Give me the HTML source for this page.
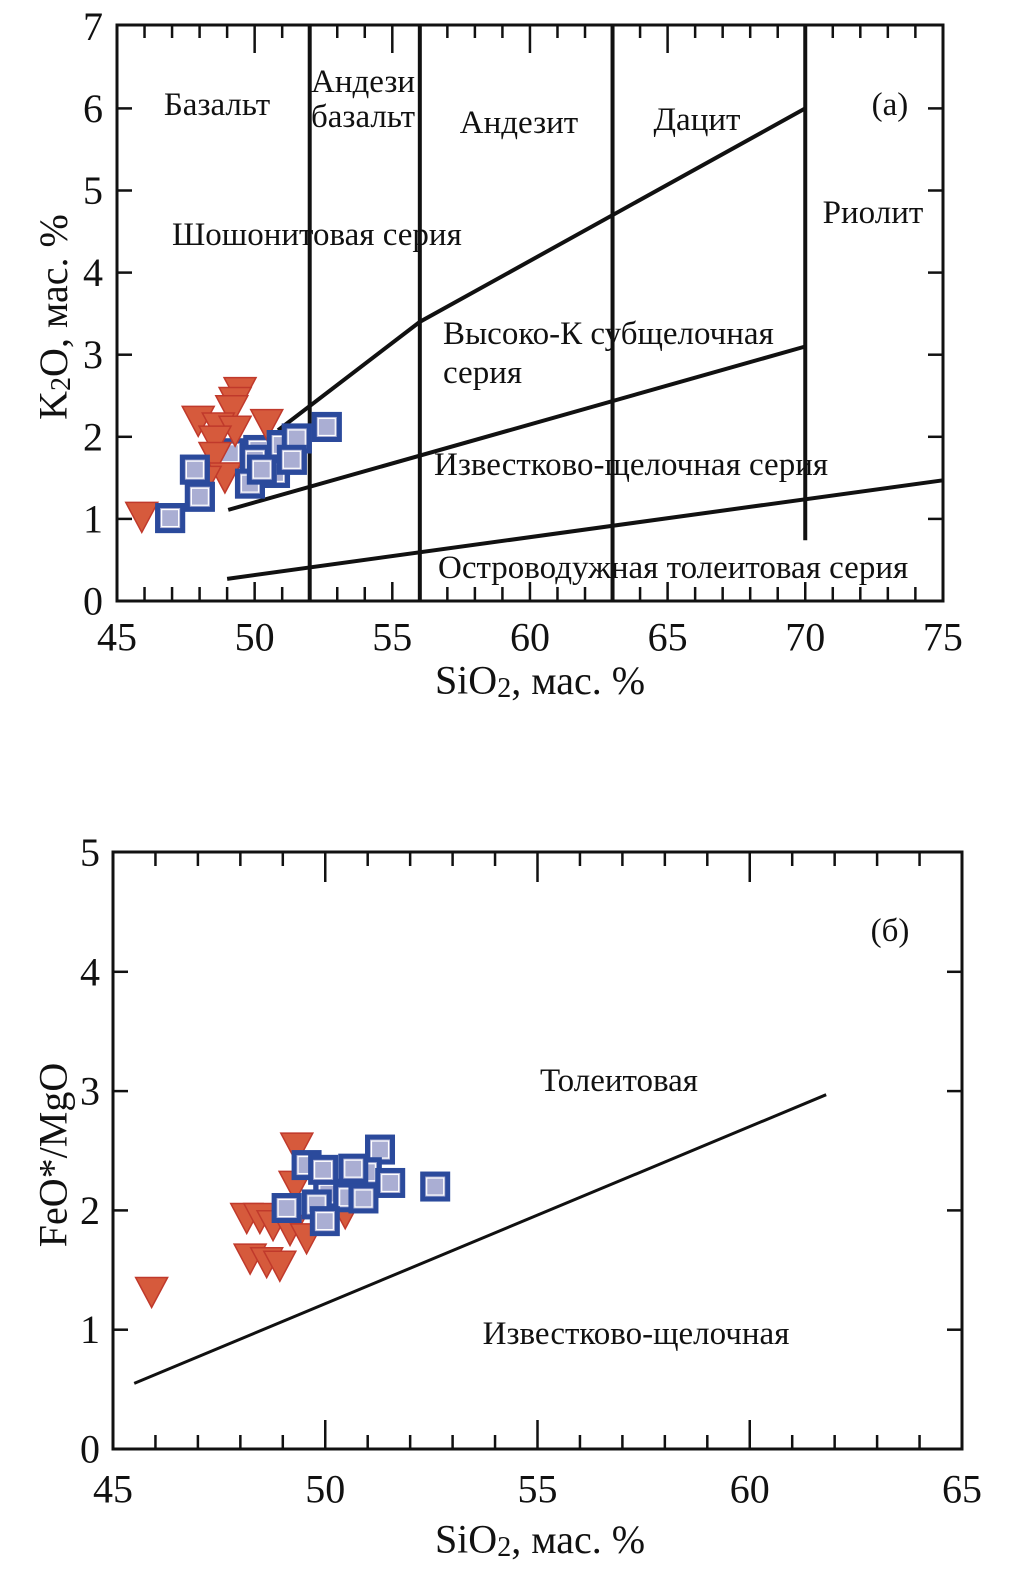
<!DOCTYPE html>
<html><head><meta charset="utf-8"><style>
html,body{margin:0;padding:0;background:#fff}
svg{display:block}
text{font-family:"Liberation Serif",serif;fill:#111}
</style></head><body>
<svg id="c" width="1035" height="1595" viewBox="0 0 1035 1595"></svg>
<script>
// ---- Chart (a) data ----
const aTriX=[45.9,49.47,49.29,49.17,47.95,48.68,49.29,50.44,48.56,48.56,48.92,48.2];
const aTriY=[1.03,2.55,2.43,2.33,2.20,2.12,2.08,2.16,1.96,1.76,1.51,1.47];
const aSqX=[46.93,48.01,47.83,49.1,50.01,50.74,49.83,50.98,51.53,52.62,50.13,51.35,50.26];
const aSqY=[1.01,1.27,1.60,1.80,1.72,1.56,1.43,1.90,1.98,2.12,1.84,1.72,1.60];
const aXTicks=[45,50,55,60,65,70,75];
const aYTicks=[0,1,2,3,4,5,6,7];
const aVert=[52,56,63];
const aUpperX=[50.85,56,70], aUpperY=[2.08,3.4,6.0];
const aMidX=[49.04,70], aMidY=[1.11,3.1];
const aLowX=[49,75], aLowY=[0.27,1.47];
// ---- Chart (b) data ----
const bTriX=[49.33,49.29,48.15,48.46,48.77,49.17,49.56,48.23,48.62,48.93,50.47,45.91];
const bTriY=[2.53,2.21,1.94,1.94,1.88,1.84,1.77,1.60,1.57,1.54,1.98,1.32];
const bSqX=[49.56,49.09,51.29,50.98,51.53,52.59,50.07,50.54,50.9,49.8,49.99,50.66,49.95];
const bSqY=[2.38,2.02,2.51,2.32,2.23,2.20,2.14,2.11,2.10,2.05,1.91,2.35,2.34];
const bXTicks=[45,50,55,60,65];
const bYTicks=[0,1,2,3,4,5];
const bLineX=[45.5,61.8], bLineY=[0.55,2.97];

const NS='http://www.w3.org/2000/svg';
const svg=document.getElementById('c');
function mk(tag,attrs,parent){const e=document.createElementNS(NS,tag);for(const k in attrs)e.setAttribute(k,attrs[k]);(parent||svg).appendChild(e);return e;}
function txt(s,x,y,size,parent,anchor){const t=mk('text',{x:x,y:y,'font-size':size,'text-anchor':anchor||'start','dominant-baseline':'central'},parent);t.textContent=s;return t;}

const ax=v=>117+(v-45)*27.53, ay=v=>601-v*82.1;
const bx=v=>113+(v-45)*42.45, by=v=>1449-v*119.3;

function tri(g,x,y){const s=16;return mk('polygon',{points:`${x-s},${y-14} ${x+s},${y-14} ${x},${y+16}`,fill:'#d65a3c',stroke:'#c0392b','stroke-width':1.5},g);}
function sq(g,x,y){const s=12.5;const r=mk('rect',{x:x-s,y:y-s,width:2*s,height:2*s,fill:'#aaaed3',stroke:'#2b4a9c','stroke-width':5},g);mk('rect',{x:x-s+4,y:y-s+4,width:2*s-8,height:2*s-8,fill:'none',stroke:'#fff','stroke-width':1.2},g);return r;}

// ===== Chart A =====
const gA=mk('g',{});


mk('rect',{x:117,y:25,width:826,height:576,fill:'none',stroke:'#111','stroke-width':3},gA);
for(let v=46;v<75;v++){const major=v%5===0;const x=ax(v);
  mk('line',{x1:x,y1:25,x2:x,y2:25+(major?28:13),stroke:'#111','stroke-width':2.5},gA);
  mk('line',{x1:x,y1:601,x2:x,y2:601-(major?19:14),stroke:'#111','stroke-width':2.5},gA);}
aYTicks.forEach(v=>{const y=ay(v);if(v>0&&v<7){mk('line',{x1:117,y1:y,x2:132,y2:y,stroke:'#111','stroke-width':2.5},gA);mk('line',{x1:943,y1:y,x2:928,y2:y,stroke:'#111','stroke-width':2.5},gA);}
  const t=txt(String(v),93,y,40,gA,'middle');});
aXTicks.forEach(v=>{const t=txt(String(v),ax(v),637,40,gA,'middle');});
aVert.forEach(v=>{const l=mk('line',{x1:ax(v),y1:25,x2:ax(v),y2:601,stroke:'#111','stroke-width':4},gA);});
const l70=mk('line',{x1:ax(70),y1:25,x2:ax(70),y2:ay(0.74),stroke:'#111','stroke-width':4},gA);


function poly(xs,ys,name){const p=mk('polyline',{points:xs.map((x,i)=>ax(x)+','+ay(ys[i])).join(' '),fill:'none',stroke:'#111','stroke-width':4},gA);}
poly(aUpperX,aUpperY,'shoshonite-boundary');
poly(aMidX,aMidY,'high-k-boundary');
poly(aLowX,aLowY,'tholeiite-boundary');
[['Базальт',217,105,'middle'],['Андези',311,82,'start'],['базальт',311,117,'start'],['Андезит',519,123,'middle'],['Дацит',697,120,'middle'],['(а)',890,105,'middle'],['Риолит',873,213,'middle'],['Шошонитовая серия',172,235,'start'],['Высоко-К субщелочная',443,334,'start'],['серия',443,373,'start'],['Известково-щелочная серия',434,465,'start'],['Островодужная толеитовая серия',438,568,'start']].forEach(a=>{const t=txt(a[0],a[1],a[2],33,gA,a[3]);});
aSqX.forEach((x,i)=>{const r=sq(gA,ax(x),ay(aSqY[i]));});
aTriX.forEach((x,i)=>{const r=tri(gA,ax(x),ay(aTriY[i]));});
aSqX.forEach((x,i)=>{if(aSqY[i]<1.75||x>50.5){const r=sq(gA,ax(x),ay(aSqY[i]));}});
const ya=mk('text',{x:0,y:0,'font-size':40,'text-anchor':'middle','dominant-baseline':'central',transform:'translate(53,317) rotate(-90)'},gA);


ya.innerHTML='K<tspan font-size="28" dy="8">2</tspan><tspan dy="-8">O, мас. %</tspan>';
const xa=mk('text',{x:540,y:680,'font-size':40,'text-anchor':'middle','dominant-baseline':'central'},gA);


xa.innerHTML='SiO<tspan font-size="28" dy="8">2</tspan><tspan dy="-8">, мас. %</tspan>';

// ===== Chart B =====
const gB=mk('g',{});


mk('rect',{x:113,y:852,width:849,height:597,fill:'none',stroke:'#111','stroke-width':3},gB);
for(let v=46;v<65;v++){const major=v%5===0;const x=bx(v);
  mk('line',{x1:x,y1:852,x2:x,y2:852+(major?30:14),stroke:'#111','stroke-width':2.5},gB);
  mk('line',{x1:x,y1:1449,x2:x,y2:1449-(major?29:14),stroke:'#111','stroke-width':2.5},gB);}
bYTicks.forEach(v=>{const y=by(v);if(v>0&&v<5){mk('line',{x1:113,y1:y,x2:128,y2:y,stroke:'#111','stroke-width':2.5},gB);mk('line',{x1:962,y1:y,x2:947,y2:y,stroke:'#111','stroke-width':2.5},gB);}
  const t=txt(String(v),90,y,40,gB,'middle');});
bXTicks.forEach(v=>{const t=txt(String(v),bx(v),1489,40,gB,'middle');});
const bl=mk('line',{x1:bx(bLineX[0]),y1:by(bLineY[0]),x2:bx(bLineX[1]),y2:by(bLineY[1]),stroke:'#111','stroke-width':3},gB);


[['(б)',890,931,33],['Толеитовая',619,1081,33],['Известково-щелочная',636,1334,33]].forEach(a=>{const t=txt(a[0],a[1],a[2],a[3],gB,'middle');});
bTriX.forEach((x,i)=>{const r=tri(gB,bx(x),by(bTriY[i]));});
bSqX.forEach((x,i)=>{const r=sq(gB,bx(x),by(bSqY[i]));});
const yb=mk('text',{x:0,y:0,'font-size':40,'text-anchor':'middle','dominant-baseline':'central',transform:'translate(53,1155) rotate(-90)'},gB);


yb.textContent='FeO*/MgO';
const xb=mk('text',{x:540,y:1539,'font-size':40,'text-anchor':'middle','dominant-baseline':'central'},gB);


xb.innerHTML='SiO<tspan font-size="28" dy="8">2</tspan><tspan dy="-8">, мас. %</tspan>';
</script>
</body></html>
